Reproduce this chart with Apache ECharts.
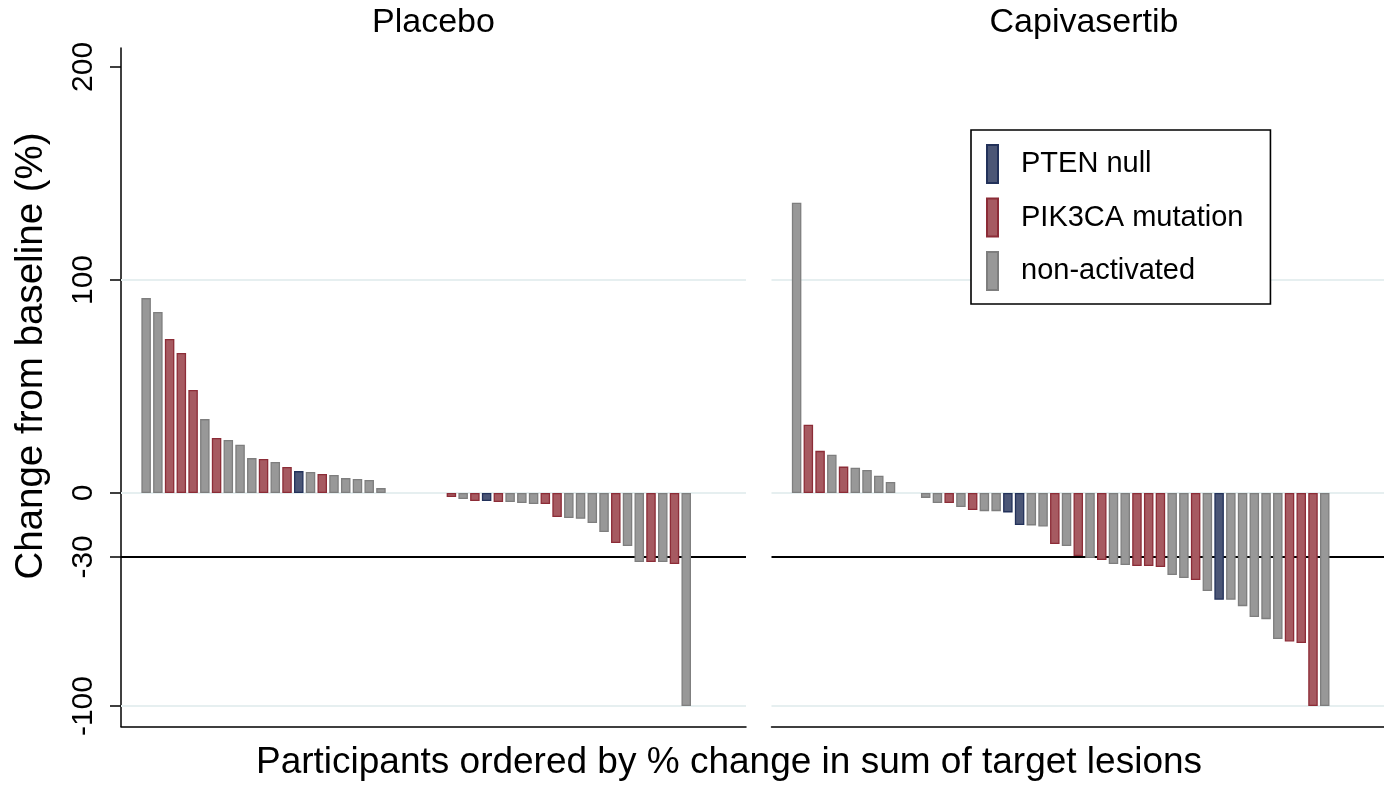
<!DOCTYPE html>
<html>
<head>
<meta charset="utf-8">
<title>Waterfall: change in target lesions</title>
<script src="https://cdn.jsdelivr.net/npm/echarts@6.0.0/dist/echarts.min.js"></script>
<style>
  html, body { margin: 0; padding: 0; background: #fff; }
  #chart { width: 1384px; height: 785px; }
</style>
</head>
<body>
<div id="chart"></div>
<script>
// ---- data ----
// group codes: P = PTEN null, M = PIK3CA mutation, N = non-activated
const groupCodes = ['P', 'M', 'N'];
const groupNames = ['PTEN null', 'PIK3CA mutation', 'non-activated'];

// placebo arm, participants in plotted order, % change from baseline
const placeboChange = [91.5, 85.0, 72.3, 65.7, 48.4, 34.7, 25.8, 24.9, 22.7, 16.4, 16.0, 14.6, 12.2, 10.3, 9.9, 8.9, 8.5, 7.0, 6.6, 6.1, 2.3,
  0, 0, 0, 0, 0,
  -1.9, -2.8, -3.8, -3.8, -4.2, -4.2, -4.7, -5.2, -5.2, -11.3, -11.7, -12.1, -14.1, -18.3, -23.5, -24.9, -32.4, -32.4, -32.4, -33.3, -100];
const placeboGroup = ['N', 'N', 'M', 'M', 'M', 'N', 'M', 'N', 'N', 'N', 'M', 'N', 'M', 'P', 'N', 'M', 'N', 'N', 'N', 'N', 'N',
  'N', 'N', 'N', 'N', 'N',
  'M', 'N', 'M', 'P', 'M', 'N', 'N', 'N', 'M', 'M', 'N', 'N', 'N', 'N', 'M', 'N', 'N', 'M', 'N', 'M', 'N'];

// capivasertib arm
const capiChange = [136.3, 32.1, 19.8, 18.0, 12.4, 11.9, 10.8, 8.1, 5.2,
  0, 0,
  -2.3, -4.7, -4.7, -6.6, -8.0, -8.5, -8.5, -9.1, -15.0, -15.2, -15.7, -23.9, -24.9, -29.6, -30.5, -31.5, -33.3, -33.8,
  -34.3, -34.3, -34.7, -38.5, -39.9, -40.8, -46.0, -50.1, -50.1, -53.1, -58.2, -59.2, -68.5, -69.7, -70.4, -100, -100];
const capiGroup = ['N', 'M', 'M', 'N', 'M', 'N', 'N', 'N', 'N',
  'N', 'N',
  'N', 'N', 'M', 'N', 'M', 'N', 'N', 'P', 'P', 'N', 'N', 'M', 'N', 'M', 'N', 'M', 'N', 'N',
  'M', 'M', 'M', 'N', 'N', 'M', 'N', 'P', 'N', 'N', 'N', 'N', 'N', 'M', 'M', 'M', 'N'];

const panelTitles = ['Placebo', 'Capivasertib'];
const yTicks = [200, 100, 0, -30, -100];
const gridValues = [100, 0, -100];
const responseCut = -30;

// ---- styles ----
const fontFamily = "'Liberation Sans', Arial, Helvetica, sans-serif";
const groupFill = ['#4b5676', '#a65a61', '#989898'];
const groupBorder = ['#22315a', '#8c2c37', '#7e7e7e'];

let chart = echarts.init(document.getElementById('chart'), null, { renderer: 'canvas' });

function panelSeries(values, groups, axisIndex) {
  let list = groupCodes.map((code, g) => ({
    name: groupNames[g],
    type: 'bar',
    xAxisIndex: axisIndex,
    yAxisIndex: axisIndex,
    barWidth: 9.5,
    barGap: '-100%', // 各组叠在同一位置
    z: 3,
    itemStyle: { color: groupFill[g], borderColor: groupBorder[g], borderWidth: 1.3 },
    emphasis: { disabled: true },
    data: values.map((v, i) => (groups[i] === code && v !== 0 ? [i + 1, v] : null)).filter(d => d)
  }));
  // reference lines, kept behind the bars and the legend
  list.push({
    type: 'line',
    xAxisIndex: axisIndex,
    yAxisIndex: axisIndex,
    data: [],
    z: 1,
    silent: true,
    markLine: {
      z: 1,
      silent: true,
      symbol: 'none',
      label: { show: false },
      animation: false,
      data: gridValues.map(v => ({ yAxis: v, lineStyle: { color: '#e6eff0', width: 2, type: 'solid' } }))
        .concat([{ yAxis: responseCut, lineStyle: { color: '#000', width: 2, type: 'solid' } }])
    }
  });
  return list;
}

function xAxisFor(gridIndex, max) {
  return {
    type: 'value',
    gridIndex: gridIndex,
    min: -1.14,
    max: max,
    axisLine: { show: true, onZero: false, lineStyle: { color: '#000', width: 1.5 } },
    axisTick: { show: false },
    axisLabel: { show: false },
    splitLine: { show: false }
  };
}

function yAxisFor(gridIndex, withLabels) {
  return {
    type: 'value',
    gridIndex: gridIndex,
    min: -109.6,
    max: 208.9,
    axisLine: { show: withLabels, onZero: false, lineStyle: { color: '#000', width: 1.5 } },
    axisTick: { show: withLabels, length: 11, customValues: yTicks, lineStyle: { color: '#000', width: 1.5 } },
    axisLabel: {
      show: withLabels,
      customValues: yTicks,
      rotate: 90,
      margin: 22,
      color: '#000',
      fontSize: 30,
      fontFamily: fontFamily
    },
    splitLine: { show: false }
  };
}

let option = {
  animation: false,
  backgroundColor: '#fff',
  grid: [
    { left: 121, right: 638, top: 48, bottom: 58.5 },
    { left: 771.5, right: 0, top: 48, bottom: 58.5 }
  ],
  xAxis: [xAxisFor(0, 52.09), xAxisFor(1, 51.05)],
  yAxis: [yAxisFor(0, true), yAxisFor(1, false)],
  legend: {
    data: groupNames,
    orient: 'vertical',
    left: 971,
    top: 130,
    z: 10,
    icon: 'rect',
    itemWidth: 11,
    itemHeight: 38,
    itemGap: 13.5,
    padding: [14, 27, 13, 15],
    borderColor: '#000',
    borderWidth: 1.6,
    backgroundColor: '#fff',
    selectedMode: false,
    textStyle: { color: '#000', fontSize: 29, fontFamily: fontFamily, padding: [0, 0, 0, 18] }
  },
  graphic: [
    { type: 'text', x: 433.5, y: 23, style: { text: panelTitles[0], fill: '#000', font: '34px ' + fontFamily, textAlign: 'center', textVerticalAlign: 'middle' } },
    { type: 'text', x: 1084, y: 23, style: { text: panelTitles[1], fill: '#000', font: '34px ' + fontFamily, textAlign: 'center', textVerticalAlign: 'middle' } },
    { type: 'text', x: 31, y: 356, rotation: Math.PI / 2, style: { text: 'Change from baseline (%)', fill: '#000', font: '38.5px ' + fontFamily, textAlign: 'center', textVerticalAlign: 'middle' } },
    { type: 'text', x: 729, y: 763, style: { text: 'Participants ordered by % change in sum of target lesions', fill: '#000', font: '37px ' + fontFamily, textAlign: 'center', textVerticalAlign: 'middle' } }
  ],
  series: panelSeries(placeboChange, placeboGroup, 0).concat(panelSeries(capiChange, capiGroup, 1))
};

chart.setOption(option);
</script>
</body>
</html>
